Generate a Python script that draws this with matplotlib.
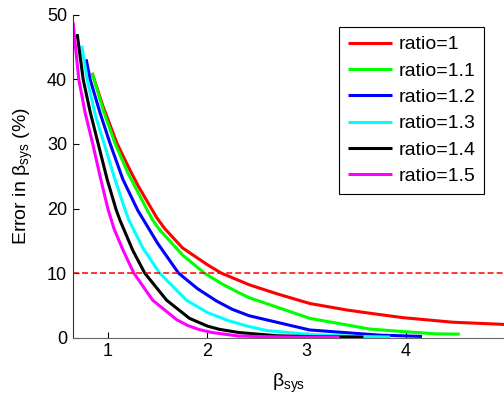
import matplotlib
matplotlib.use('Agg')
import matplotlib.pyplot as plt

plt.rcParams['font.family'] = ['Liberation Sans', 'DejaVu Sans']
plt.rcParams['mathtext.fontset'] = 'custom'
plt.rcParams['mathtext.rm'] = 'Liberation Sans'
plt.rcParams['mathtext.it'] = 'Liberation Sans'
plt.rcParams['mathtext.bf'] = 'Liberation Sans:bold'

# curves: (beta_sys, error %)
labels = ['ratio=1', 'ratio=1.1', 'ratio=1.2', 'ratio=1.3', 'ratio=1.4', 'ratio=1.5']
colors = ['#ff0000', '#00ff00', '#0000ff', '#00ffff', '#000000', '#ff00ff']

x_r1 = [0.84, 0.95, 1.09, 1.2, 1.3, 1.44, 1.49, 1.57, 1.75, 2.0, 2.14, 2.42, 2.7,
        3.03, 3.4, 3.63, 3.97, 4.47, 5.0]
y_r1 = [41.0, 35.8, 30.1, 26.6, 23.6, 19.9, 18.6, 16.9, 13.9, 11.3, 10.0, 8.2, 6.8,
        5.3, 4.3, 3.8, 3.1, 2.4, 2.05]

x_r11 = [0.84, 0.86, 0.95, 1.07, 1.2, 1.39, 1.45, 1.52, 1.75, 1.97, 2.15, 2.325, 2.42,
         3.03, 3.63, 3.97, 4.3, 4.54]
y_r11 = [41.0, 40.0, 35.3, 30.1, 25.5, 19.9, 18.2, 16.7, 12.8, 10.0, 8.3, 6.9, 6.2,
         3.0, 1.35, 0.95, 0.6, 0.55]

x_r12 = [0.78, 0.82, 0.92, 1.02, 1.15, 1.3, 1.5, 1.71, 1.9, 2.09, 2.25, 2.42, 3.03,
         3.73, 4.16]
y_r12 = [43.1, 40.0, 34.8, 30.1, 24.5, 19.7, 14.6, 10.0, 7.6, 5.7, 4.4, 3.4, 1.2,
         0.4, 0.2]

x_r13 = [0.735, 0.79, 0.87, 0.96, 1.06, 1.17, 1.21, 1.35, 1.52, 1.79, 2.0, 2.2,
         2.4, 2.6, 3.03, 3.5, 3.84]
y_r13 = [45.2, 40.0, 34.6, 30.1, 25.0, 19.9, 18.2, 13.9, 10.0, 5.8, 3.9, 2.7,
         1.8, 1.1, 0.5, 0.2, 0.1]

x_r14 = [0.69, 0.75, 0.82, 0.9, 0.99, 1.08, 1.12, 1.25, 1.37, 1.59, 1.82, 2.0,
         2.12, 2.32, 2.7, 3.1, 3.57]
y_r14 = [47.0, 40.0, 35.0, 30.1, 24.6, 19.9, 18.2, 13.5, 10.0, 5.8, 3.0, 1.8,
         1.3, 0.8, 0.3, 0.15, 0.1]

x_r15 = [0.648, 0.706, 0.77, 0.845, 0.92, 1.0, 1.06, 1.15, 1.26, 1.45, 1.69, 1.8,
         1.92, 2.05, 2.32, 2.8, 3.33]
y_r15 = [48.8, 40.0, 34.8, 30.1, 25.0, 19.9, 16.9, 13.6, 10.0, 5.8, 2.8, 1.9,
         1.25, 0.8, 0.25, 0.1, 0.05]

xs = [x_r1, x_r11, x_r12, x_r13, x_r14, x_r15]
ys = [y_r1, y_r11, y_r12, y_r13, y_r14, y_r15]

threshold = 10

fig = plt.figure(figsize=(5.04, 4.03), dpi=100)
ax = fig.add_axes([0.1443, 0.162, 0.8557, 0.8015])

for x, y, c, lab in zip(xs, ys, colors, labels):
    ax.plot(x, y, color=c, linewidth=2.2, label=lab, solid_capstyle='butt')

ax.axhline(threshold, color='#ff0000', linestyle='--', linewidth=1.1, dashes=(3.9, 2.0))

ax.set_xlim(0.645, 4.985)
ax.set_ylim(0, 50)
ax.set_xticks([1, 2, 3, 4])
ax.set_yticks([0, 10, 20, 30, 40, 50])
ax.tick_params(direction='in', length=4, labelsize=13, width=0.8, pad=4)
ax.spines['top'].set_visible(False)
ax.spines['right'].set_visible(False)
ax.spines['left'].set_color('#333333')
ax.spines['bottom'].set_color('#666666')

ax.set_xlabel(r'$\beta_{sys}$', fontsize=14, labelpad=8)
ax.set_ylabel(r'Error in $\beta_{sys}$ (%)', fontsize=14, labelpad=9)

leg = ax.legend(loc='upper right', bbox_to_anchor=(0.9537, 0.962), fontsize=14,
                frameon=True, fancybox=False, edgecolor='black', framealpha=1,
                handlelength=2.3, labelspacing=0.45, handletextpad=0.3,
                borderpad=0.45, borderaxespad=0)
leg.get_frame().set_linewidth(0.8)

fig.savefig('out.png', dpi=100)
